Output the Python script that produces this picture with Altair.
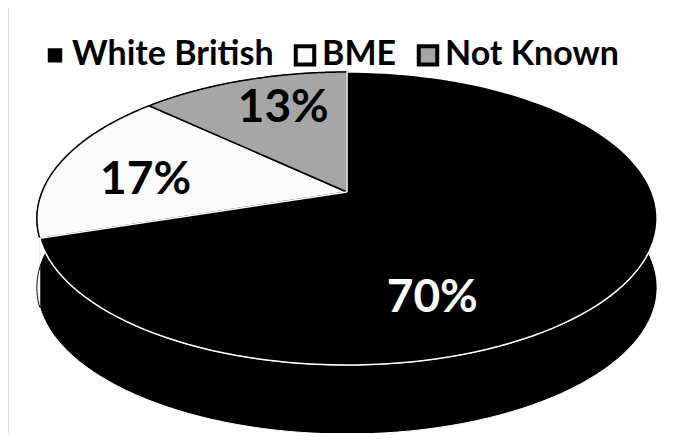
import altair as alt
import pandas as pd

# ---- data ----
categories = ["White British", "BME", "Not Known"]
values = [70, 17, 13]
fill_colors = ["#000000", "#fbfbfb", "#a6a6a6"]
edge_colors = ["#ffffff", "#000000", "#000000"]
label_colors = ["#ffffff", "#000000", "#000000"]

df = pd.DataFrame({"cat": categories, "value": values, "idx": list(range(len(values)))})

# ---- layout (pixels of the 680x441 picture) ----
W, H = 664, 425
OX, OY = 8, 8
CX, CY = 347, 192          # apex of the pie
RX, RY, P = 305, 141.7, 0.181   # ellipse radii and perspective factor
DEPTH = 69
N = 120
LR = 0.7
FONT = "Lato"

xs = alt.Scale(domain=[OX, OX + W], nice=False, zero=False)
ys = alt.Scale(domain=[OY, OY + H], reverse=True, nice=False, zero=False)
fill_scale = alt.Scale(domain=categories, range=fill_colors)
edge_scale = alt.Scale(domain=categories, range=edge_colors)

LEGEND = alt.Legend(
    orient="none",
    legendX=30,
    legendY=30,
    direction="horizontal",
    title=None,
    symbolType="square",
    symbolSize=340,
    symbolStrokeColor="#000000",
    symbolStrokeWidth=4,
    labelFont=FONT,
    labelFontSize=34,
    labelFontWeight="bold",
    labelColor="#000000",
    labelOffset=0,
    columnPadding=13,
    labelLimit=400,
)

PX = f"{CX} + {RX}*sin(datum.phi)/(1 + {P}*cos(datum.phi))"
PY = f"{CY} - {RY}*cos(datum.phi)/(1 + {P}*cos(datum.phi))"


def base():
    return (
        alt.Chart(df)
        .transform_window(cum="sum(value)", sort=[alt.SortField("idx")], frame=[None, 0])
        .transform_joinaggregate(total="sum(value)")
        .transform_calculate(
            t0="(datum.cum - datum.value) / datum.total",
            t1="datum.cum / datum.total",
        )
    )


# side wall of the 3D pie
side = (
    base()
    .transform_calculate(step=f"sequence(0, {2 * N + 2})")
    .transform_flatten(["step"])
    .transform_calculate(
        k=f"datum.step <= {N} ? datum.step / {N} : ({2 * N + 1} - datum.step) / {N}",
        bottom=f"datum.step > {N} ? 1 : 0",
    )
    .transform_calculate(phi="2*PI*(datum.t0 + (datum.t1 - datum.t0)*datum.k)")
    .transform_calculate(px=PX, py=f"{PY} + datum.bottom*{DEPTH}")
    .mark_line(filled=True, strokeWidth=1)
    .encode(
        x=alt.X("px:Q", scale=xs, axis=None),
        y=alt.Y("py:Q", scale=ys, axis=None),
        order=alt.Order("step:Q"),
        fill=alt.Fill("cat:N", scale=fill_scale, legend=LEGEND),
        stroke=alt.Stroke("cat:N", scale=edge_scale, legend=None),
    )
)


def top_layer(filter_expr):
    return (
        base()
        .transform_calculate(step=f"sequence(-1, {N + 2})")
        .transform_flatten(["step"])
        .transform_calculate(
            k=f"clamp(datum.step, 0, {N}) / {N}",
            center=f"(datum.step < 0 || datum.step > {N}) ? 1 : 0",
        )
        .transform_calculate(phi="2*PI*(datum.t0 + (datum.t1 - datum.t0)*datum.k)")
        .transform_calculate(
            px=f"datum.center ? {CX} : {PX}",
            py=f"datum.center ? {CY} : {PY}",
        )
        .transform_filter(filter_expr)
        .mark_line(filled=True, strokeWidth=1.5)
        .encode(
            x=alt.X("px:Q", scale=xs, axis=None),
            y=alt.Y("py:Q", scale=ys, axis=None),
            order=alt.Order("step:Q"),
            fill=alt.Fill("cat:N", scale=fill_scale, legend=LEGEND),
            stroke=alt.Stroke("cat:N", scale=edge_scale, legend=None),
        )
    )


top_rest = top_layer(f"datum.cat != '{categories[0]}'")
top_main = top_layer(f"datum.cat == '{categories[0]}'")

label_shift = {"White British": (-108, 41), "BME": (-1, 9), "Not Known": (9, -6)}


def label_layer(i):
    cat = categories[i]
    dx, dy = label_shift[cat]
    return (
        base()
        .transform_calculate(phi="PI*(datum.t0 + datum.t1)")
        .transform_calculate(
            lx=f"{CX} + {LR}*{RX}*sin(datum.phi)/(1 + {P}*cos(datum.phi))",
            ly=f"{CY} - {LR}*{RY}*cos(datum.phi)/(1 + {P}*cos(datum.phi))",
            label="format(datum.value / datum.total, '.0%')",
        )
        .transform_filter(f"datum.cat == '{cat}'")
        .mark_text(
            font=FONT, fontSize=46, fontWeight="bold", color=label_colors[i],
            align="center", baseline="middle", dx=dx, dy=dy,
        )
        .encode(
            x=alt.X("lx:Q", scale=xs, axis=None),
            y=alt.Y("ly:Q", scale=ys, axis=None),
            text="label:N",
        )
    )


border = alt.Chart(df).mark_rule(color="#d9d9d9", strokeWidth=2).encode(
    x=alt.value(0), y=alt.value(0), y2=alt.value(H)
)

chart = (
    alt.layer(side, top_rest, top_main, label_layer(0), label_layer(1), label_layer(2), border)
    .properties(width=W, height=H, padding=0, autosize=alt.AutoSizeParams(type="none"))
    .configure_view(stroke=None)
)

chart.save("out.html", embed_options={"renderer": "svg", "actions": False})
